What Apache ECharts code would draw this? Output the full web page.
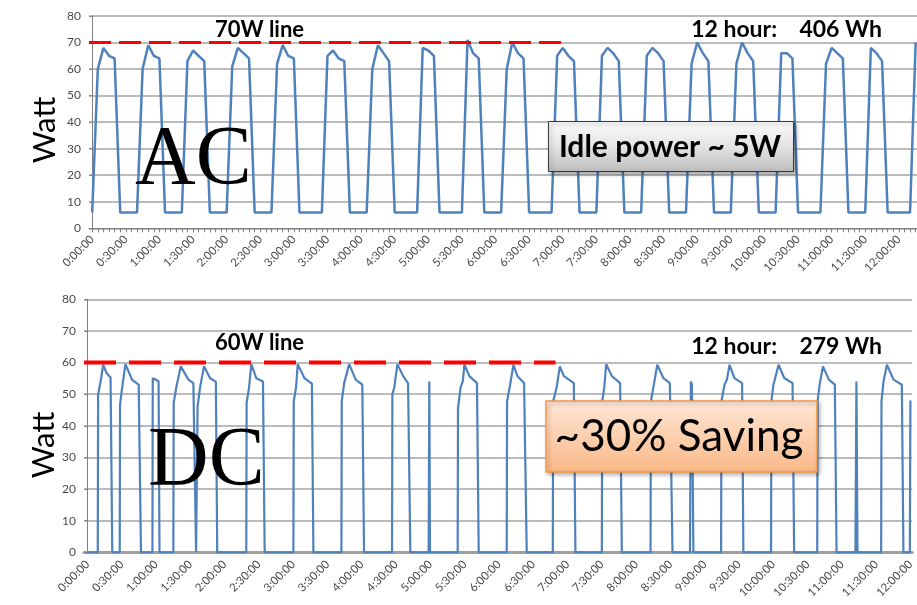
<!DOCTYPE html>
<html><head><meta charset="utf-8">
<script src="https://cdn.jsdelivr.net/npm/echarts@6/dist/echarts.min.js"></script>
<style>html,body{margin:0;padding:0;background:#fff}#c{width:917px;height:605px}</style>
</head><body><div id="c"></div><script>
// ---------- data ----------
const labelTimes = ['0:00:00','0:30:00','1:00:00','1:30:00','2:00:00','2:30:00','3:00:00','3:30:00',
  '4:00:00','4:30:00','5:00:00','5:30:00','6:00:00','6:30:00','7:00:00','7:30:00','8:00:00','8:30:00',
  '9:00:00','9:30:00','10:00:00','10:30:00','11:00:00','11:30:00','12:00:00'];
const yTicks = [0,10,20,30,40,50,60,70,80];

// AC: one reading every 5 minutes (watts)
const acStepMin = 5;
const acWatts = [
  6,
  60,68,65,64, 6,6,6,6,
  60,69,65,64, 6,6,6,6,
  63,67,65,63, 6,6,6,6,
  61,68,66,64, 6,6,6,6,
  62,69,65,64, 6,6,6,6,6,
  65,67,64,63, 6,6,6,6,
  60,69,66,63, 6,6,6,6,6,
  68,67,65, 6,6,6,6,6,
  71,66,64, 6,6,6,6,
  60,70,66,64, 6,6,6,6,6,
  65,68,65,63, 6,6,6,6,
  65,68,66,63, 6,6,6,6,
  65,68,66,63, 6,6,6,6,
  62,70,66,63, 6,6,6,6,
  62,70,66,63, 6,6,6,6,
  66,66,64, 6,6,6,6,6,
  62,68,66,64, 6,6,6,6,
  68,66,63, 6,6,6,6,6,
  70
];

// DC: vertices (minutes since start, watts)
const dcMinutes = [
  0,
  9.0,9.3,11.5,13.7,16.7,20.2,21.7,
  28.2,28.5,30.3,33.2,39,44.8,46.8,
  56.8,57.1,59.8,62.2,63,
  75.1,75.4,77.6,81.6,88.3,92.6,95,
  96,96.3,98.4,101.9,107.1,112.3,113.5,
  138.9,139.2,141.3,143.3,147.7,153.5,155,
  180.1,180.4,182.4,183.9,189.7,196.3,197.6,
  222.1,222.4,224.5,228.9,234.6,240.4,241.9,
  266.4,266.7,268.3,271.1,276.1,280.4,282.4,
  298.4,299,299.6,
  323.8,324.1,326.3,328.3,329.7,334.1,340.7,342.2,
  366.7,367,369.7,372.6,376.1,381.9,384.2,
  407,407.3,410.3,413.2,416.7,425.4,426.8,
  449.9,450.2,452,453.7,458.7,465.9,467.4,
  492.5,492.8,494.9,498.4,503.7,509.4,511.7,
  527,527.8,528.7,530,
  554.2,554.5,557.2,559.3,561.6,565.9,572.6,573.7,
  597.9,598.2,600,604.5,609.4,616.7,618.1,
  638.3,638.6,640.4,643.3,648.5,653.7,655.2,
  671.7,672.6,673.5,
  694.2,694.5,696.3,699.3,705,712.3,713.7,
  719.3,719.8
];
const dcWatts = [
  0,
  0,50,54,59.3,56.7,55.3,0,
  0,46.7,52,59.5,54.5,53,0,
  0,55,54.6,54,0,
  0,47.3,52,58.8,54.6,53.5,0,
  0,46,52,58.8,55.1,53.9,0,
  0,47.3,52,59.5,55,54,0,
  0,47.7,52,59.5,55.1,53.3,0,
  0,47.7,53.5,59.5,54.6,53,0,
  0,50,52,59.5,55.7,53.5,0,
  0,54,0,
  0,45.6,52,54.1,59.3,55.7,53.5,0,
  0,47.7,53,59.3,55.7,53.5,0,
  0,47.7,52,58.8,55.7,53.5,0,
  0,47.7,52,59.5,55.7,53.5,0,
  0,47.7,52,59.3,55.1,53.5,0,
  0,54,53,0,
  0,47.7,53,54.6,59.3,55.1,53.5,0,
  0,47.7,53,59.3,55.1,53.5,0,
  0,47.7,53,58.8,54.6,53,0,
  0,54,0,
  0,47.7,54.1,59.3,54.6,53,0,
  0,48
];

// reference lines: [watts, end minute]
const acLimit = 70, acLimitEnd = 419;
const dcLimit = 60, dcLimitEnd = 409.4;

// ---------- build ----------
function toMin(s){ const p = s.split(':').map(Number); return p[0]*60 + p[1]; }
const labelVals = labelTimes.map(toMin);
const labelMap = {}; labelTimes.forEach((s,i)=>{ labelMap[labelVals[i]] = s; });
const tickVals = []; for (let m = 0; m <= 735; m += 5) tickVals.push(m);

const acData = acWatts.map((w,i)=>[i*acStepMin, w]);
const dcData = dcMinutes.map((t,i)=>[t, dcWatts[i]]);

const topMin = -2.86, topMax = 736.2;
const botMin = -3.04, botMax = 721.3;

const gridColor = '#a4a4a4', axisColor = '#808080', lblColor = '#4a4a4a';
const lblFont = 'Lato';

function xAxis(gi, min, max, top){
  return {
    type:'value', gridIndex:gi, min:min, max:max,
    splitLine:{show:false},
    axisLine:{show:true, onZero:false, lineStyle:{color: top ? axisColor : '#a0a0a0', width: top ? 1 : 3}},
    axisTick:{show: top, customValues: tickVals, length:4, lineStyle:{color:axisColor}},
    axisLabel:{customValues: labelVals, rotate:45, margin: top ? 9 : 10, fontSize:11.5, color:lblColor,
      fontFamily:lblFont, formatter:(v)=>labelMap[Math.round(v)] || ''}
  };
}
function yAxis(gi){
  return {
    type:'value', gridIndex:gi, min:yTicks[0], max:yTicks[yTicks.length-1], interval:10,
    axisLine:{show:true, lineStyle:{color:axisColor, width:1}},
    axisTick:{show:true, length:3, lineStyle:{color:axisColor}},
    splitLine:{show:true, lineStyle:{color:gridColor, width:1.5}},
    axisLabel:{fontSize:12, color:lblColor, fontFamily:lblFont, margin:8}
  };
}

const chart = echarts.init(document.getElementById('c'), null, {renderer:'canvas'});
chart.setOption({
  animation:false,
  backgroundColor:'#fff',
  grid:[
    {left:89, top:16, right:0, height:212.3},
    {left:84, top:299.3, right:0, height:253}
  ],
  xAxis:[ xAxis(0, topMin, topMax, true), xAxis(1, botMin, botMax, false) ],
  yAxis:[ yAxis(0), yAxis(1) ],
  series:[
    {type:'line', xAxisIndex:0, yAxisIndex:0, data:acData, showSymbol:false, symbol:'none',
      lineStyle:{color:'#4f81bd', width:2.5}, z:3},
    {type:'line', xAxisIndex:0, yAxisIndex:0, data:[[topMin,acLimit],[acLimitEnd,acLimit]], symbol:'none',
      lineStyle:{color:'#ff0000', width:3, type:[22,8]}, z:4},
    {type:'line', xAxisIndex:1, yAxisIndex:1, data:dcData, showSymbol:false, symbol:'none',
      lineStyle:{color:'#4f81bd', width:2.2}, z:3},
    {type:'line', xAxisIndex:1, yAxisIndex:1, data:[[botMin,dcLimit],[dcLimitEnd,dcLimit]], symbol:'none',
      lineStyle:{color:'#ff0000', width:4, type:[32,13]}, z:4}
  ],
  graphic:[
    {type:'text', x:45, y:130, rotation:Math.PI/2, z:50,
      style:{text:'Watt', font:'31px Lato', fill:'#000', align:'center', verticalAlign:'middle'}},
    {type:'text', x:44, y:445, rotation:Math.PI/2, z:50,
      style:{text:'Watt', font:'31px Lato', fill:'#000', align:'center', verticalAlign:'middle'}},
    {type:'text', x:259.5, y:30, z:50,
      style:{text:'70W line', font:'bold 22px Lato', fill:'#000', align:'center', verticalAlign:'middle'}},
    {type:'text', x:882, y:30, z:50,
      style:{text:'12 hour:    406 Wh', font:'bold 23px Lato', fill:'#000', align:'right', verticalAlign:'middle'}},
    {type:'text', x:259.5, y:343, z:50,
      style:{text:'60W line', font:'bold 22px Lato', fill:'#000', align:'center', verticalAlign:'middle'}},
    {type:'text', x:882, y:347, z:50,
      style:{text:'12 hour:    279 Wh', font:'bold 23px Lato', fill:'#000', align:'right', verticalAlign:'middle'}},
    {type:'text', x:135, y:162, z:50,
      style:{text:'AC', font:'84px "Liberation Serif"', fill:'#000', align:'left', verticalAlign:'middle'}},
    {type:'text', x:148, y:463, z:50,
      style:{text:'DC', font:'84px "Liberation Serif"', fill:'#000', align:'left', verticalAlign:'middle'}},
    {type:'rect', z:60, shape:{x:548.5, y:121.5, width:245, height:50},
      style:{fill:{type:'linear', x:0, y:0, x2:0, y2:1, colorStops:[
        {offset:0, color:'#fbfbfb'},{offset:0.5,color:'#e4e4e4'},{offset:1, color:'#bdbdbd'}]},
        stroke:'#3a3a3a', lineWidth:1, shadowBlur:4, shadowColor:'rgba(0,0,0,0.35)', shadowOffsetX:2, shadowOffsetY:2}},
    {type:'text', x:670, y:147, z:61,
      style:{text:'Idle power ~ 5W', font:'bold 30px Lato', fill:'#000', align:'center', verticalAlign:'middle'}},
    {type:'rect', z:60, shape:{x:546, y:401, width:271, height:71},
      style:{fill:{type:'linear', x:0, y:0, x2:0, y2:1, colorStops:[
        {offset:0, color:'#fee8d8'},{offset:0.5,color:'#fcd0ae'},{offset:1, color:'#fab887'}]},
        stroke:'#f79646', lineWidth:1.5, shadowBlur:4, shadowColor:'rgba(0,0,0,0.3)', shadowOffsetX:2, shadowOffsetY:2}},
    {type:'text', x:679, y:437, z:61,
      style:{text:'~30% Saving', font:'44px Lato', fill:'#000', align:'center', verticalAlign:'middle'}}
  ]
});
</script></body></html>
